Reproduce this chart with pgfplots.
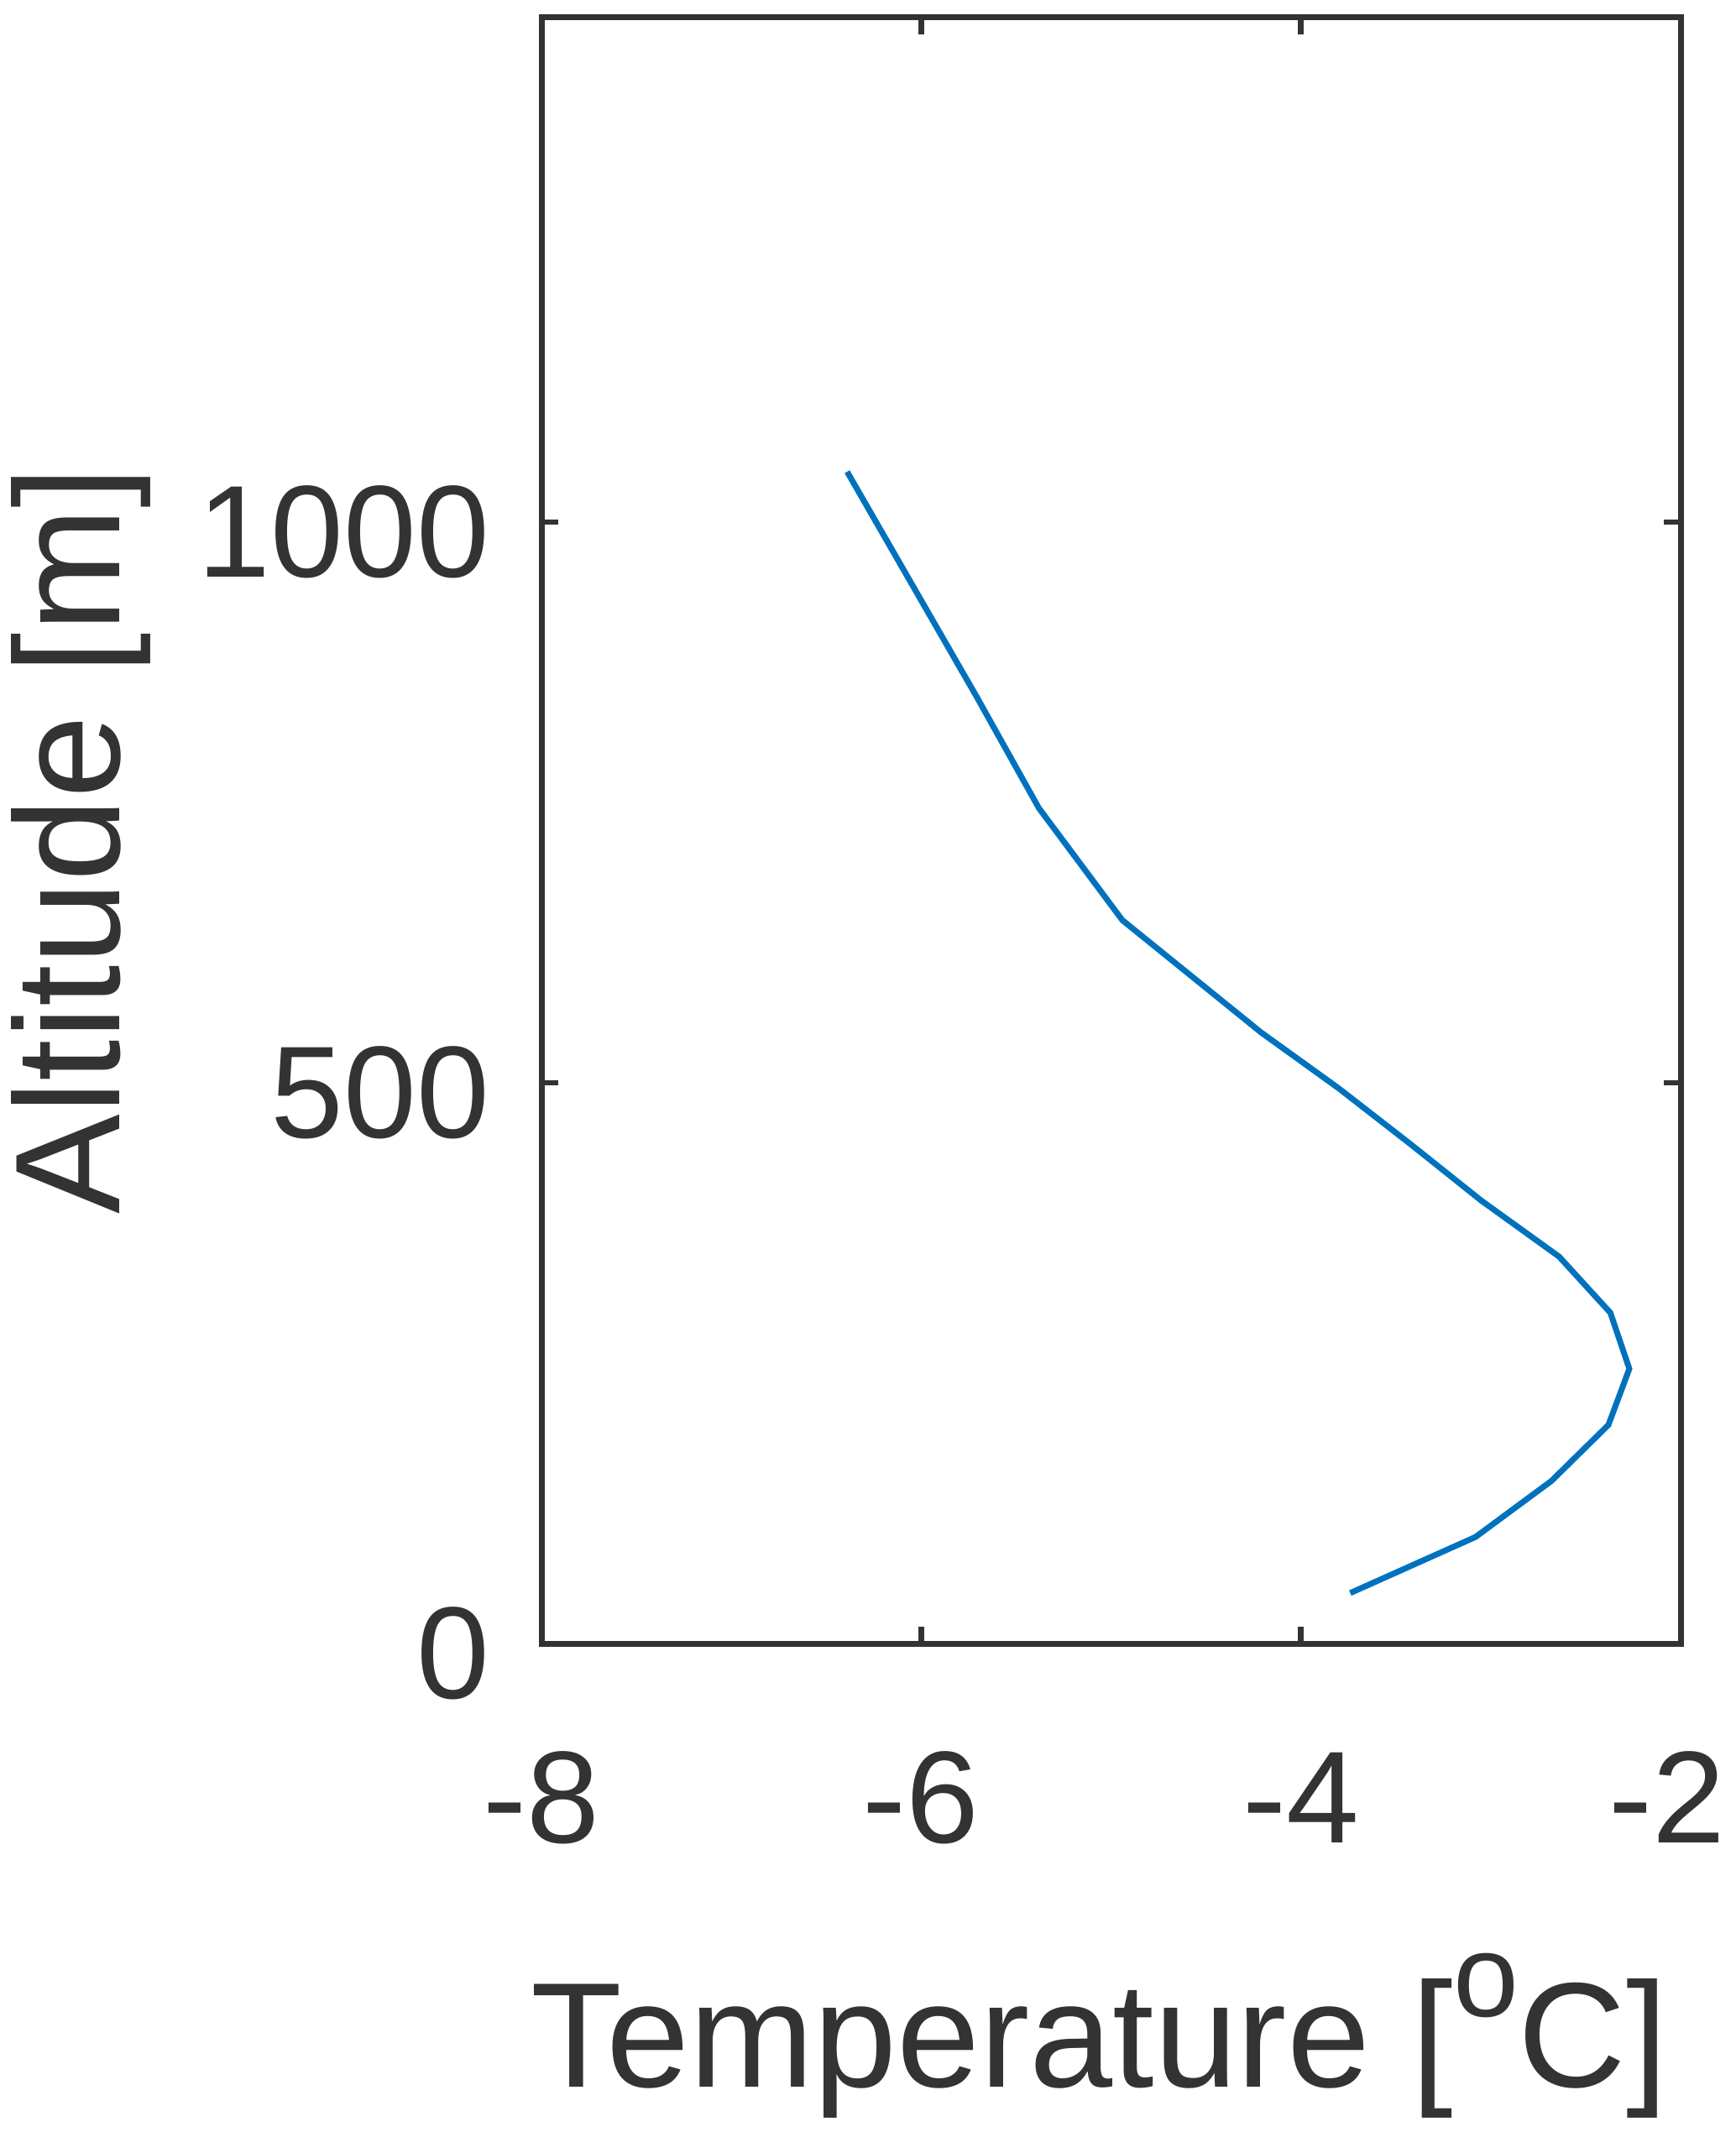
\documentclass[border=0pt]{standalone}
\usepackage{pgfplots}
\pgfplotsset{compat=1.18}
\usepackage{fontspec}
\setmainfont{Liberation Sans}
\definecolor{axcol}{RGB}{51,51,51}
\definecolor{mblue}{RGB}{0,114,189}
\begin{document}
\begin{tikzpicture}
\useasboundingbox (0,0) rectangle (206.7pt,254pt);
\begin{axis}[
  at={(64.5pt,58.2pt)}, anchor=south west,
  scale only axis, width=135.7pt, height=193.7pt,
  xmin=-8, xmax=-2, ymin=0, ymax=1450,
  xtick={-8,-6,-4,-2}, ytick={0,500,1000},
  xticklabels={-8,-6,-4,-2\kern3.2pt},
  yticklabels={0,500,1000},
  tick align=inside, major tick length=2pt,
  axis line style={axcol, line width=0.7pt},
  every tick/.style={axcol, line width=0.65pt},
  /pgf/number format/assume math mode=true,
  ticklabel style={font=\fontsize{15.6}{18}\selectfont, text=axcol},
  xticklabel style={anchor=base, yshift=-23.7pt, inner sep=0pt},
  yticklabel style={anchor=east, inner sep=0pt, xshift=-6.0pt, yshift=-1.2pt},
  xlabel={Temperature [\raisebox{8.4pt}{\fontsize{14}{14}\selectfont o}C]},
  ylabel={Altitude [m]},
  label style={font=\fontsize{17.8}{21}\selectfont, text=axcol, inner sep=0pt},
  xlabel style={at={(axis description cs:0.490,-0.273)}, anchor=base},
  ylabel style={at={(axis description cs:-0.370,0.494)}, anchor=base},
]
\addplot[mblue, line width=0.7pt] coordinates {
(-3.74,45) (-3.08,95) (-2.68,145) (-2.38,195) (-2.27,245) (-2.37,295)
(-2.64,345) (-3.05,395) (-3.42,445) (-3.80,495) (-4.21,545) (-4.94,645)
(-5.38,745) (-5.71,845) (-6.39,1045)
};
\end{axis}
\end{tikzpicture}
\end{document}
